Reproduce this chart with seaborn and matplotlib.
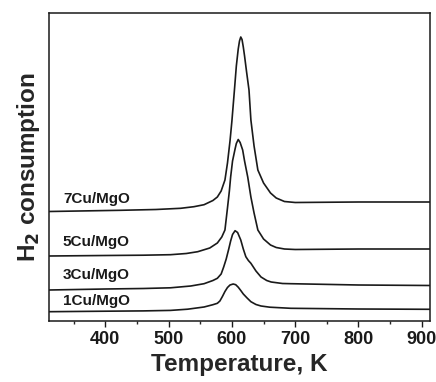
import matplotlib
matplotlib.use("Agg")
import matplotlib.pyplot as plt
import seaborn as sns
import pandas as pd

# Temperature (K) and H2 consumption (a.u.)
t_1cu = [311, 400, 460, 503, 530, 556, 570, 577, 581, 585, 589, 593, 597, 602, 606, 610, 614, 618, 624, 630, 638, 646, 660, 693, 800, 913]
h_1cu = [9.3, 9.8, 10.1, 10.6, 11.8, 14.0, 16.3, 17.7, 20, 24.5, 29.5, 33.5, 36, 37, 36.3, 33.8, 30.5, 27, 23, 19.3, 16.5, 15, 13.8, 12.7, 12, 11.7]

t_3cu = [311, 400, 460, 503, 535, 556, 570, 577, 583, 587, 591, 595, 598, 601, 605, 609, 614, 618, 622, 626, 630, 638, 646, 655, 662, 680, 693, 800, 913]
h_3cu = [31, 32, 32.5, 33.2, 35, 37.3, 40.5, 42.7, 47, 54, 62, 72, 80, 86.5, 90.3, 88.5, 81, 72, 64.3, 60.5, 57.7, 50, 44, 40.5, 39, 37.5, 37.3, 36, 35.5]

t_5cu = [311, 400, 460, 503, 528, 546, 565, 577, 584, 589, 593, 596, 598, 601, 605, 607, 610, 613, 617, 620, 625, 630, 635, 641, 650, 661, 670, 683, 700, 800, 913]
h_5cu = [65, 65.5, 65.8, 66.3, 67.5, 69.3, 73, 78, 84, 91, 113, 130, 144, 160, 172, 177.5, 181.5, 178.5, 171, 160, 144, 124, 108, 91, 82, 76, 73.5, 72, 71.5, 72, 72]

t_7cu = [311, 424, 480, 519, 540, 556, 570, 577, 583, 589, 593, 597, 600, 604, 607, 610, 612, 614, 616, 618, 620, 623, 627, 630, 635, 641, 650, 661, 670, 683, 700, 800, 913]
h_7cu = [109.5, 110.7, 111.5, 112.7, 114.3, 116.3, 120.5, 124, 130, 141, 158, 180, 200, 231, 255, 272, 280, 284, 281.5, 274, 265, 250, 231, 201, 175, 151, 138, 128, 123, 119.5, 118.5, 119, 119]

series_names = ["1Cu/MgO", "3Cu/MgO", "5Cu/MgO", "7Cu/MgO"]
label_y = [20, 45.5, 79, 121.5]
label_x = 333
x_ticks = [400, 500, 600, 700, 800, 900]

sns.set_style("white")
plt.rcParams['font.family'] = ['Liberation Sans', 'DejaVu Sans']

fig = plt.figure(figsize=(4.36, 3.82), dpi=100)
ax = fig.add_axes([49 / 436, 61 / 382, 381 / 436, 308 / 382])

data = [(t_1cu, h_1cu), (t_3cu, h_3cu), (t_5cu, h_5cu), (t_7cu, h_7cu)]
for (t, h), name in zip(data, series_names):
    df = pd.DataFrame({"T": t, "H": h})
    sns.lineplot(data=df, x="T", y="H", ax=ax, color="#1a1a1a", linewidth=1.2,
                 estimator=None, sort=True)

for name, y in zip(series_names, label_y):
    ax.text(label_x, y, name, fontsize=11, fontweight="bold", color="#1a1a1a",
            ha="left", va="center")

ax.set_xlim(311, 913)
ax.set_ylim(0, 308)
ax.set_xticks(x_ticks)
ax.set_xticks([350, 450, 550, 650, 750, 850], minor=True)
ax.set_yticks([])
ax.tick_params(axis="x", which="major", direction="out", length=4, width=1,
               labelsize=13, pad=3, colors="#1a1a1a", bottom=True)
ax.tick_params(axis="x", which="minor", direction="out", length=2.5, width=1, bottom=True)
for lbl in ax.get_xticklabels():
    lbl.set_fontweight("bold")

for sp in ax.spines.values():
    sp.set_visible(True)
    sp.set_color("#1a1a1a")
    sp.set_linewidth(1.1)

ax.set_xlabel("Temperature, K", fontsize=17.5, fontweight="bold", labelpad=4)
ax.set_ylabel("H$_\\mathbf{2}$ consumption", fontsize=17.5, fontweight="bold", labelpad=5)

fig.savefig("out.png", dpi=100)
